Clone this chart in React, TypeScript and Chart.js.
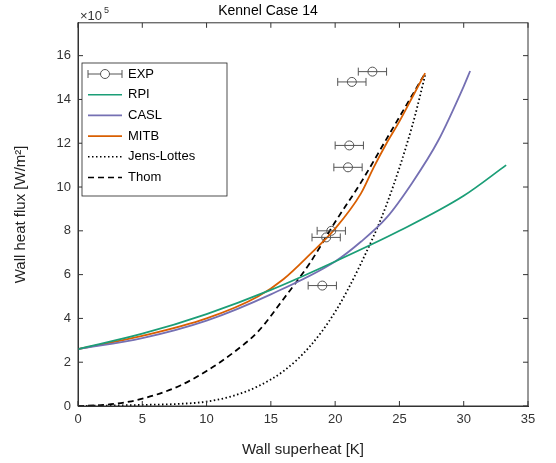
import React, { useEffect, useRef } from "react";
import { Chart, registerables } from "chart.js";
Chart.register(...registerables);

const expX = [22.9, 21.3, 21.1, 21.0, 19.7, 19.3, 19.0];
const expY = [15.27, 14.8, 11.9, 10.9, 8.0, 7.7, 5.5];
const expErr = [1.1, 1.1, 1.1, 1.1, 1.1, 1.1, 1.1];

const rpiX = [0, 5, 10, 15, 20, 25, 30, 33.3];
const rpiY = [2.6, 3.3, 4.2, 5.3, 6.6, 8.0, 9.6, 11.0];
const caslX = [0, 5, 10, 15, 20, 22, 24, 26, 28, 30, 30.5];
const caslY = [2.6, 3.1, 3.9, 5.1, 6.6, 7.5, 8.6, 10.2, 12.1, 14.6, 15.3];
const mitbX = [0, 5, 10, 14, 16, 18, 20, 22, 23, 24, 25, 26, 27];
const mitbY = [2.6, 3.2, 4.0, 5.0, 5.8, 6.9, 8.1, 9.7, 10.9, 12.0, 13.0, 14.1, 15.2];
const jlX = [0, 5, 8, 10, 12, 14, 16, 18, 20, 22, 24, 26, 27];
const jlY = [0, 0.05, 0.1, 0.2, 0.45, 0.9, 1.6, 2.7, 4.3, 6.5, 9.2, 12.8, 15.1];
const thomX = [0, 2, 4, 6, 8, 10, 12, 14, 16, 18, 20, 22, 24, 26, 27];
const thomY = [0, 0.05, 0.2, 0.5, 0.95, 1.6, 2.4, 3.4, 4.9, 6.5, 8.4, 10.2, 12.2, 14.2, 15.2];
const xTicks = [0, 5, 10, 15, 20, 25, 30, 35];
const yTicks = [0, 2, 4, 6, 8, 10, 12, 14, 16];

const pts = (xs: number[], ys: number[]) => xs.map((x, i) => ({ x, y: ys[i] }));
const FONT = "Liberation Sans, Arial, sans-serif";

const overlay = {
  id: "overlay",
  afterDatasetsDraw(chart: any) {
    const { ctx, scales, chartArea: a } = chart;
    const xs = scales.x, ys = scales.y;
    ctx.save();
    // box + inward ticks
    ctx.strokeStyle = "#333"; ctx.lineWidth = 1;
    ctx.strokeRect(a.left, a.top, a.right - a.left, a.bottom - a.top);
    ctx.beginPath();
    xTicks.forEach((v) => {
      const p = xs.getPixelForValue(v);
      ctx.moveTo(p, a.bottom); ctx.lineTo(p, a.bottom - 5);
      ctx.moveTo(p, a.top); ctx.lineTo(p, a.top + 5);
    });
    yTicks.forEach((v) => {
      const p = ys.getPixelForValue(v);
      ctx.moveTo(a.left, p); ctx.lineTo(a.left + 5, p);
      ctx.moveTo(a.right, p); ctx.lineTo(a.right - 5, p);
    });
    ctx.stroke();
    // error bars
    ctx.strokeStyle = "#555";
    expX.forEach((x, i) => {
      const y = ys.getPixelForValue(expY[i]);
      const x1 = xs.getPixelForValue(x - expErr[i]);
      const x2 = xs.getPixelForValue(x + expErr[i]);
      ctx.beginPath();
      ctx.moveTo(x1, y); ctx.lineTo(x2, y);
      ctx.moveTo(x1, y - 4); ctx.lineTo(x1, y + 4);
      ctx.moveTo(x2, y - 4); ctx.lineTo(x2, y + 4);
      ctx.stroke();
    });
    // x10^5
    ctx.fillStyle = "#333";
    ctx.font = `13px ${FONT}`;
    ctx.fillText("\u00d710", 80, 20);
    ctx.font = `9px ${FONT}`;
    ctx.fillText("5", 104, 13);
    // legend
    const lx = 82, ly = 63, lw = 145, lh = 133;
    ctx.fillStyle = "#fff"; ctx.fillRect(lx, ly, lw, lh);
    ctx.strokeStyle = "#222"; ctx.lineWidth = 0.8; ctx.strokeRect(lx, ly, lw, lh);
    const items = [
      { t: "EXP", c: "#555", d: [] as number[], exp: true },
      { t: "RPI", c: "#1b9e77", d: [] },
      { t: "CASL", c: "#7570b3", d: [] },
      { t: "MITB", c: "#d95f02", d: [] },
      { t: "Jens-Lottes", c: "#000", d: [1.5, 2.5] },
      { t: "Thom", c: "#000", d: [6, 4] },
    ];
    ctx.font = `13px ${FONT}`;
    ctx.textBaseline = "middle";
    items.forEach((it, i) => {
      const y = ly + 11 + i * 20.7;
      ctx.strokeStyle = it.c; ctx.lineWidth = (it as any).exp ? 1 : 1.6;
      ctx.setLineDash(it.d);
      ctx.beginPath(); ctx.moveTo(lx + 6, y); ctx.lineTo(lx + 40, y); ctx.stroke();
      ctx.setLineDash([]);
      if ((it as any).exp) {
        ctx.beginPath();
        ctx.moveTo(lx + 6, y - 4); ctx.lineTo(lx + 6, y + 4);
        ctx.moveTo(lx + 40, y - 4); ctx.lineTo(lx + 40, y + 4); ctx.stroke();
        ctx.fillStyle = "#fff";
        ctx.beginPath(); ctx.arc(lx + 23, y, 4.5, 0, Math.PI * 2); ctx.fill(); ctx.stroke();
      }
      ctx.fillStyle = "#000";
      ctx.fillText(it.t, lx + 46, y);
    });
    ctx.restore();
  },
};

export default function App() {
  const ref = useRef<HTMLCanvasElement>(null);
  useEffect(() => {
    document.body.style.margin = "0";
    const line = (label: string, xs: number[], ys: number[], color: string, dash: number[] = []) => ({
      label, data: pts(xs, ys), borderColor: color, borderWidth: 1.8, borderDash: dash,
      pointRadius: 0, showLine: true, tension: 0.4, cubicInterpolationMode: "monotone" as const, fill: false,
    });
    const chart = new Chart(ref.current!, {
      type: "scatter",
      data: {
        datasets: [
          line("RPI", rpiX, rpiY, "#1b9e77"),
          line("CASL", caslX, caslY, "#7570b3"),
          line("MITB", mitbX, mitbY, "#d95f02"),
          line("Jens-Lottes", jlX, jlY, "#000", [1.5, 2.5]),
          line("Thom", thomX, thomY, "#000", [6, 4]),
          {
            label: "EXP", data: pts(expX, expY), showLine: false, pointRadius: 4.5,
            pointBackgroundColor: "rgba(0,0,0,0)", pointBorderColor: "#555", pointBorderWidth: 1,
          } as any,
        ],
      },
      options: {
        responsive: false, animation: false,
        layout: { padding: { left: 8, right: 28, top: 0, bottom: 0 } },
        plugins: {
          legend: { display: false }, tooltip: { enabled: false },
          title: { display: true, text: "Kennel Case 14", color: "#000", font: { family: FONT, size: 14, weight: "normal" }, padding: { top: 3, bottom: 3 } },
        },
        scales: {
          x: {
            type: "linear", min: 0, max: 35,
            afterBuildTicks: (ax: any) => { ax.ticks = xTicks.map((v) => ({ value: v })); },
            afterFit: (ax: any) => { ax.height = 57; },
            ticks: { color: "#333", padding: 6, font: { family: FONT, size: 13 } },
            grid: { display: false, drawTicks: false },
            border: { color: "#333" },
            title: { display: true, text: "Wall superheat [K]", color: "#222", font: { family: FONT, size: 15 }, padding: { top: 4 } },
          },
          y: {
            min: 0, max: 17.5,
            afterBuildTicks: (ax: any) => { ax.ticks = yTicks.map((v) => ({ value: v })); },
            afterFit: (ax: any) => { ax.width = 70; },
            ticks: { color: "#333", padding: 7, font: { family: FONT, size: 13 } },
            grid: { display: false, drawTicks: false },
            border: { color: "#333" },
            title: { display: true, text: "Wall heat flux [W/m\u00b2]", color: "#222", font: { family: FONT, size: 15 }, padding: { bottom: 6 } },
          },
        },
      },
      plugins: [overlay],
    });
    return () => chart.destroy();
  }, []);
  return <canvas ref={ref} width={556} height={463} style={{ display: "block" }} />;
}
